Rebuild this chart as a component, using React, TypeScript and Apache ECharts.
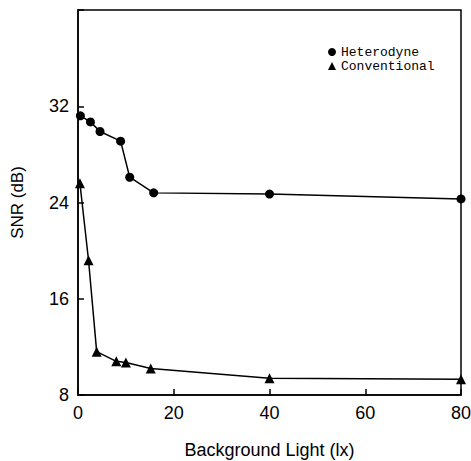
import React, { useEffect, useRef } from "react";
import * as echarts from "echarts";

const heterodyneX = [0.5, 2.6, 4.6, 8.9, 10.8, 15.8, 40, 80];
const heterodyneY = [31.2, 30.7, 29.9, 29.1, 26.1, 24.8, 24.7, 24.3];
const conventionalX = [0.4, 2.2, 3.9, 8, 10, 15.2, 40, 80];
const conventionalY = [25.6, 19.2, 11.6, 10.8, 10.7, 10.2, 9.4, 9.3];
const xTicks = [0, 20, 40, 60, 80];
const yTicks = [8, 16, 24, 32];

export default function App() {
  const ref = useRef<HTMLDivElement>(null);
  useEffect(() => {
    const chart = echarts.init(ref.current!, null, { renderer: "svg" });
    const font = "Liberation Sans";
    chart.setOption({
      animation: false,
      backgroundColor: "#fff",
      grid: {
        left: 78,
        right: 10,
        top: 10,
        bottom: 66,
        outerBoundsMode: "none",
        containLabel: false,
        show: true,
        borderColor: "#000",
        borderWidth: 1.5,
      },
      legend: {
        orient: "vertical",
        left: 328,
        top: 45,
        padding: 0,
        itemGap: 0,
        itemWidth: 8,
        itemHeight: 8,
        data: [
          { name: "Heterodyne", icon: "circle" },
          { name: "Conventional", icon: "triangle" },
        ],
        textStyle: {
          fontFamily: "Liberation Mono",
          fontSize: 13,
          lineHeight: 14,
          color: "#000",
        },
      },
      xAxis: {
        type: "value",
        min: xTicks[0],
        max: xTicks[xTicks.length - 1],
        interval: 20,
        name: "Background Light (lx)",
        nameLocation: "middle",
        nameGap: 46,
        nameTextStyle: { fontFamily: font, fontSize: 18, color: "#000" },
        axisLine: { show: true, lineStyle: { color: "#000", width: 1.5 } },
        axisTick: { show: true, inside: true, length: 6, lineStyle: { color: "#000", width: 1.5 } },
        axisLabel: { fontFamily: font, fontSize: 18, color: "#000", margin: 9 },
        splitLine: { show: false },
      },
      yAxis: {
        type: "value",
        min: 8,
        max: 40,
        interval: 8,
        name: "SNR (dB)",
        nameLocation: "middle",
        nameGap: 52,
        nameRotate: 90,
        nameTextStyle: { fontFamily: font, fontSize: 17, color: "#000" },
        axisLine: { show: true, lineStyle: { color: "#000", width: 1.5 } },
        axisTick: { show: true, inside: true, length: 6, lineStyle: { color: "#000", width: 1.5 } },
        axisLabel: {
          fontFamily: font,
          fontSize: 18,
          color: "#000",
          margin: 9,
          formatter: (v: number) => (yTicks.includes(v) ? String(v) : ""),
        },
        splitLine: { show: false },
      },
      series: [
        {
          name: "Heterodyne",
          type: "line",
          symbol: "circle",
          symbolSize: 9,
          data: heterodyneX.map((x, i) => [x, heterodyneY[i]]),
          lineStyle: { color: "#000", width: 1.5 },
          itemStyle: { color: "#000" },
        },
        {
          name: "Conventional",
          type: "line",
          symbol: "triangle",
          symbolSize: 10,
          data: conventionalX.map((x, i) => [x, conventionalY[i]]),
          lineStyle: { color: "#000", width: 1.5 },
          itemStyle: { color: "#000" },
        },
      ],
    });
    return () => chart.dispose();
  }, []);
  return <div ref={ref} style={{ width: 471, height: 461, position: "absolute", left: 0, top: 0 }} />;
}
